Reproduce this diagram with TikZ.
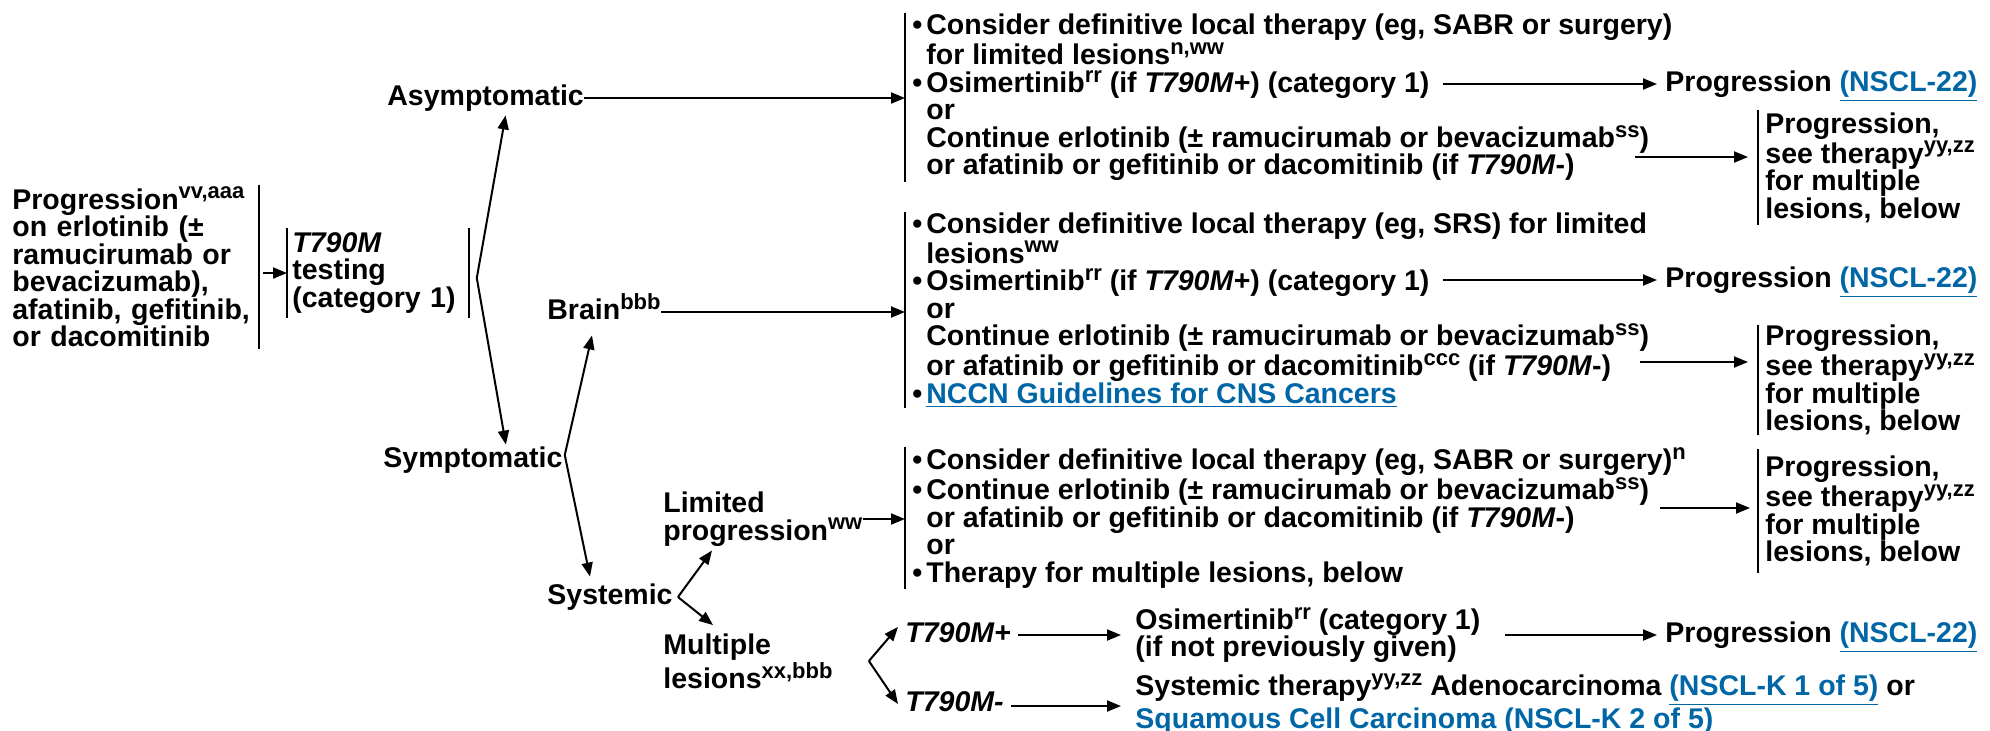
\documentclass[tikz,border=0pt]{standalone}
\usepackage{fontspec}
\setmainfont{Liberation Sans}
\usetikzlibrary{arrows.meta}
\definecolor{lnkblue}{HTML}{0066A6}
\newcommand\spr[1]{\raisebox{0.36em}{\fontsize{11pt}{11pt}\selectfont #1}}
\newcommand\lnk[1]{\textcolor{lnkblue}{\underline{#1}}}
\newcommand\bul{\makebox[7pt][l]{•}}
\newcommand\ind{\hspace*{7pt}}
\newcommand\Tm{\textit{T790M}}
\begin{document}
\begin{tikzpicture}[x=0.5pt,y=-0.5pt,
  every node/.style={font=\fontsize{14.25pt}{13.75pt}\selectfont\bfseries, inner sep=0pt, align=left},
  lbl/.style={anchor=west, text height=10.5pt, text depth=3pt},
  box/.style={anchor=west, inner xsep=3.5pt},
  bar/.style={line width=1pt},
  arr/.style={line width=1pt, -{Triangle[length=7pt,width=5.5pt]}}]
\useasboundingbox (0,0) rectangle (1990,730);

% left column
\node[anchor=west, text width=123pt, minimum height=82pt] (prog) at (12,267)
  {Progression\spr{vv,aaa}\\on erlotinib (±\\ramucirumab or\\bevacizumab),\\afatinib, gefitinib,\\or dacomitinib};
\draw[bar] (prog.north east) -- (prog.south east);
\node[anchor=west, text width=85.5pt, inner xsep=2.5pt, minimum height=45pt] (t790) at (287,273)
  {\Tm\\testing\\(category 1)};
\draw[bar] (t790.north west) -- (t790.south west);
\draw[bar] (t790.north east) -- (t790.south east);
\coordinate (pe) at ([xshift=2pt]prog.east);
\draw[arr] (pe |- t790.west) -- (t790.west);

% first branch
\node[lbl] (asym) at (387,98) {Asymptomatic};
\node[lbl] (symp) at (383,460) {Symptomatic};
\coordinate (b1) at ([xshift=4pt,yshift=-2.5pt]t790.east);
\draw[arr] (b1) -- ([xshift=10pt,yshift=-1.75pt]asym.south);
\draw[arr] (b1) -- ([xshift=16.5pt,yshift=0.75pt]symp.north);

% second branch
\node[lbl] (brain) at (547,312) {Brain\spr{bbb}};
\node[lbl] (syst) at (547,597) {Systemic};
\coordinate (b2) at ([xshift=1pt,yshift=2.5pt]symp.east);
\draw[arr] (b2) -- ([xshift=-6pt,yshift=-4.75pt]brain.south);
\draw[arr] (b2) -- ([xshift=-10pt,yshift=3.25pt]syst.north);

% third branch
\node[anchor=west] (lim) at (663,519) {Limited\\progression\spr{ww}};
\node[anchor=west] (mult) at (663,661) {Multiple\\lesions\spr{xx,bbb}};
\coordinate (b3) at ([xshift=2.5pt]syst.east);
\draw[arr] (b3) -- ([xshift=24.5pt,yshift=-2pt]lim.south west);
\draw[arr] (b3) -- ([xshift=25pt,yshift=4pt]mult.north west);

% treatment boxes
\node[box, minimum height=84.5pt] (boxA) at (905,97.5)
  {\bul Consider definitive local therapy (eg, SABR or surgery)\\
   \ind for limited lesions\spr{n,ww}\\
   \bul Osimertinib\spr{rr} (if \Tm+) (category 1)\\
   \ind or\\
   \ind Continue erlotinib (± ramucirumab or bevacizumab\spr{ss})\\
   \ind or afatinib or gefitinib or dacomitinib (if \Tm-)};
\draw[bar] (boxA.north west) -- (boxA.south west);
\node[box, minimum height=98pt] (boxB) at (905,310)
  {\bul Consider definitive local therapy (eg, SRS) for limited\\
   \ind lesions\spr{ww}\\
   \bul Osimertinib\spr{rr} (if \Tm+) (category 1)\\
   \ind or\\
   \ind Continue erlotinib (± ramucirumab or bevacizumab\spr{ss})\\
   \ind or afatinib or gefitinib or dacomitinib\spr{ccc} (if \Tm-)\\
   \bul \lnk{NCCN Guidelines for CNS Cancers}};
\draw[bar] (boxB.north west) -- (boxB.south west);
\node[box, minimum height=69pt] (boxC) at (905,518)
  {\bul Consider definitive local therapy (eg, SABR or surgery)\spr{n}\\
   \bul Continue erlotinib (± ramucirumab or bevacizumab\spr{ss})\\
   \ind or afatinib or gefitinib or dacomitinib (if \Tm-)\\
   \ind or\\
   \bul Therapy for multiple lesions, below};
\draw[bar] (boxC.north west) -- (boxC.south west);

\draw[arr] (asym.east) -- (asym.east -| boxA.west);
\draw[arr] (brain.east) -- (brain.east -| boxB.west);
\draw[arr] (lim.east) -- (lim.east -| boxC.west);

% outcomes
\node[lbl] (progA) at (1665,84) {Progression \lnk{(NSCL-22)}};
\coordinate (oA) at (1443,84);
\draw[arr, shorten >=4pt] (oA) -- (progA.west);
\node[box, minimum height=57.5pt] (pbA) at (1758,167.5)
  {Progression,\\see therapy\spr{yy,zz}\\for multiple\\lesions, below};
\draw[bar] (pbA.north west) -- (pbA.south west);
\coordinate (cA) at (1635,157);
\draw[arr, shorten >=5pt] (cA) -- (cA -| pbA.west);

\node[lbl] (progB) at (1665,280) {Progression \lnk{(NSCL-22)}};
\coordinate (oB) at (1443,280);
\draw[arr, shorten >=4pt] (oB) -- (progB.west);
\node[box, minimum height=55pt] (pbB) at (1758,380)
  {Progression,\\see therapy\spr{yy,zz}\\for multiple\\lesions, below};
\draw[bar] (pbB.north west) -- (pbB.south west);
\coordinate (cB) at (1640,362);
\draw[arr, shorten >=5pt] (cB) -- (cB -| pbB.west);

\node[box, minimum height=61.5pt] (pbC) at (1758,511)
  {Progression,\\see therapy\spr{yy,zz}\\for multiple\\lesions, below};
\draw[bar] (pbC.north west) -- (pbC.south west);
\coordinate (cC) at (1660,508);
\draw[arr, shorten >=4pt] (cC) -- (cC -| pbC.west);

% multiple lesions rows
\node[lbl] (tplus) at (905,635) {\textit{T790M+}};
\node[lbl] (tminus) at (905,704) {\textit{T790M-}};
\coordinate (b4) at ([xshift=18pt]mult.east);
\draw[arr] (b4) -- ([xshift=-3.5pt,yshift=4pt]tplus.west);
\draw[arr] (b4) -- ([xshift=-3.5pt]tminus.west);

\node[anchor=west] (osiD) at (1135,635) {Osimertinib\spr{rr} (category 1)\\(if not previously given)};
\draw[arr, shorten <=3.5pt, shorten >=7pt] (tplus.east) -- (osiD.west);
\node[lbl] (progD) at (1665,635) {Progression \lnk{(NSCL-22)}};
\coordinate (oD) at (1505,635);
\draw[arr, shorten >=4pt] (oD) -- (progD.west);

\node[anchor=west] (sysD) at (1135,706)
  {Systemic therapy\spr{yy,zz} Adenocarcinoma \lnk{(NSCL-K 1 of 5)} or\\
   \lnk{Squamous Cell Carcinoma (NSCL-K 2 of 5)}};
\draw[arr, shorten <=3.5pt, shorten >=7pt] (tminus.east |- sysD.west) -- (sysD.west);
\end{tikzpicture}
\end{document}
